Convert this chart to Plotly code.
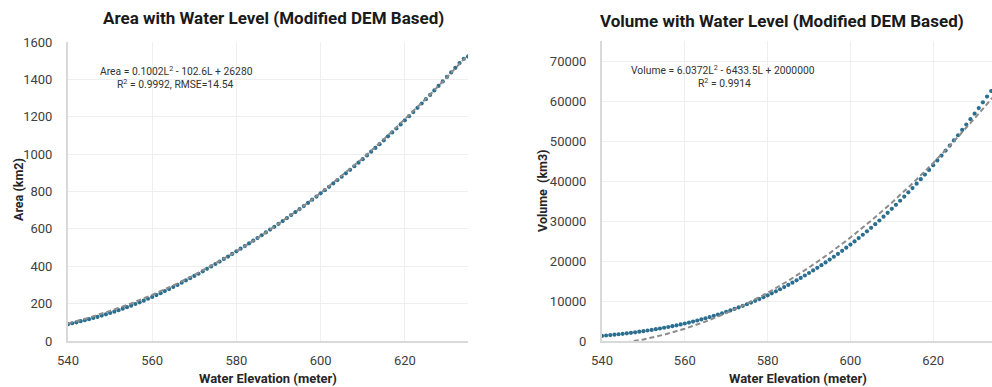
import plotly.graph_objects as go
from plotly.subplots import make_subplots

# ---------------- data ----------------
elevation = list(range(540, 636))  # water elevation (m), 1 m steps

area_km2 = [
    90, 95, 100, 106, 111, 117, 123, 129, 136, 143,
    150, 157, 165, 173, 181, 189, 198, 207, 216, 226,
    236, 246, 256, 267, 278, 289, 300, 312, 324, 336,
    348, 360, 373, 386, 399, 412, 425, 439, 452, 466,
    480, 494, 508, 522, 537, 551, 566, 581, 596, 611,
    627, 642, 658, 674, 690, 706, 722, 739, 756, 773,
    790, 807, 825, 843, 861, 879, 897, 916, 935, 954,
    973, 993, 1013, 1033, 1053, 1074, 1095, 1116, 1137, 1159,
    1181, 1203, 1225, 1248, 1271, 1294, 1317, 1341, 1365, 1389,
    1413, 1437, 1462, 1487, 1510, 1522,
]

volume_km3 = [
    1280, 1370, 1470, 1575, 1685, 1800, 1920, 2045, 2180, 2320,
    2465, 2620, 2780, 2950, 3125, 3310, 3505, 3710, 3920, 4140,
    4370, 4610, 4865, 5125, 5400, 5685, 5980, 6290, 6610, 6940,
    7285, 7640, 8010, 8390, 8785, 9190, 9610, 10045, 10490, 10950,
    11425, 11915, 12420, 12940, 13475, 14025, 14590, 15170, 15765, 16375,
    17000, 17640, 18295, 18965, 19650, 20350, 21065, 21800, 22550, 23320,
    24100, 24900, 25720, 26560, 27420, 28300, 29200, 30130, 31080, 32050,
    33040, 34040, 35060, 36100, 37160, 38240, 39340, 40460, 41600, 42760,
    43940, 45140, 46360, 47600, 48860, 50140, 51440, 52760, 54100, 55460,
    56840, 58240, 59660, 61100, 62500, 63900,
]

fit_elevation = [540, 545, 550, 555, 560, 565, 570, 575, 580, 585,
                 590, 595, 600, 605, 610, 615, 620, 625, 630, 635]
area_fit = [94, 125, 161, 201, 247, 297, 353, 414, 479, 550,
            626, 706, 792, 883, 978, 1079, 1185, 1296, 1411, 1532]
volume_fit = [-1100, -500, 390, 1580, 3070, 4860, 6960, 9360, 12060, 15060,
              18360, 21960, 25870, 30080, 34590, 39400, 44510, 49930, 55640, 61660]

area_eq = "Area = 0.1002L<sup>2</sup> - 102.6L + 26280"
area_stats = "R<sup>2</sup> = 0.9992, RMSE=14.54"
vol_eq = "Volume = 6.0372L<sup>2</sup> - 6433.5L + 2000000"
vol_stats = "R<sup>2</sup> = 0.9914"

# ---------------- styling ----------------
FONT = "Roboto, Liberation Sans, sans-serif"
DOT = "#2b6f90"
FITC = "#8c8c8c"
GRID = "#efefef"
AXIS = "#d9d9d9"
TICK = "#404040"

W, H = 992, 387
fig = make_subplots(rows=1, cols=2)

fit_line = dict(color=FITC, width=2, dash="5px,3px")
dots = dict(color=DOT, size=4.2, line=dict(width=0))

fig.add_trace(go.Scatter(x=elevation, y=area_km2, mode="markers",
                         marker=dots, showlegend=False), row=1, col=1)
fig.add_trace(go.Scatter(x=fit_elevation, y=area_fit, mode="lines",
                         line=fit_line, showlegend=False,
                         hoverinfo="skip"), row=1, col=1)
fig.add_trace(go.Scatter(x=elevation, y=volume_km3, mode="markers",
                         marker=dots, showlegend=False), row=1, col=2)
fig.add_trace(go.Scatter(x=fit_elevation, y=volume_fit, mode="lines",
                         line=fit_line, showlegend=False,
                         hoverinfo="skip"), row=1, col=2)

def px_x(p):
    return p / W

def px_y(p):
    return 1 - p / H

axis_common = dict(showgrid=True, gridcolor=GRID, gridwidth=1,
                   showline=True, linecolor=AXIS, linewidth=2,
                   zeroline=False, ticks="", automargin=False,
                   tickfont=dict(family=FONT, size=13, color=TICK))

fig.update_xaxes(domain=[px_x(68), px_x(468)], range=[540, 635], dtick=20,
                 tick0=540, ticklabelstandoff=6, **axis_common, row=1, col=1)
fig.update_yaxes(domain=[px_y(341), px_y(42)], range=[0, 1600], dtick=200,
                 ticklabelstandoff=11, **axis_common, row=1, col=1)
fig.update_xaxes(domain=[px_x(602), 1.0], range=[540, 634.2], dtick=20,
                 tick0=540, ticklabelstandoff=6, **axis_common, row=1, col=2)
fig.update_yaxes(domain=[px_y(341), px_y(41)], range=[0, 75000], dtick=10000,
                 tickformat="d", ticklabelstandoff=11, **axis_common, row=1, col=2)

ann = []
def text(x, y, s, size, bold=False, angle=0, color="#262626"):
    ann.append(dict(xref="paper", yref="paper", x=px_x(x), y=px_y(y),
                    text=f"<b>{s}</b>" if bold else s, showarrow=False,
                    xanchor="center", yanchor="middle", textangle=angle,
                    font=dict(family=FONT, size=size, color=color)))

text(273, 18, "Area with Water Level (Modified DEM Based)", 17, bold=True, color="#1a1a1a")
text(782, 21, "Volume with Water Level (Modified DEM Based)", 17, bold=True, color="#1a1a1a")
text(268, 378, "Water Elevation (meter)", 13, bold=True)
text(798, 378, "Water Elevation (meter)", 13, bold=True)
text(18, 190, "Area (km2)", 12.5, bold=True, angle=-90)
text(542, 191, "Volume\u00a0 (km3)", 12.5, bold=True, angle=-90)
text(176, 71, area_eq, 10.3, color="#333333")
text(175, 84, area_stats, 10.3, color="#333333")
text(723, 70, vol_eq, 10.3, color="#333333")
text(724, 83, vol_stats, 10.3, color="#333333")

fig.update_layout(width=W, height=H, margin=dict(l=0, r=0, t=0, b=0, pad=0),
                  paper_bgcolor="white", plot_bgcolor="white",
                  showlegend=False, annotations=ann, font=dict(family=FONT))

fig.write_html(
    "out.html",
    config={"displayModeBar": False},
    post_script=("document.body.style.margin='0';"
                 "document.documentElement.style.overflow='hidden';"
                 "document.body.style.overflow='hidden';"),
)
